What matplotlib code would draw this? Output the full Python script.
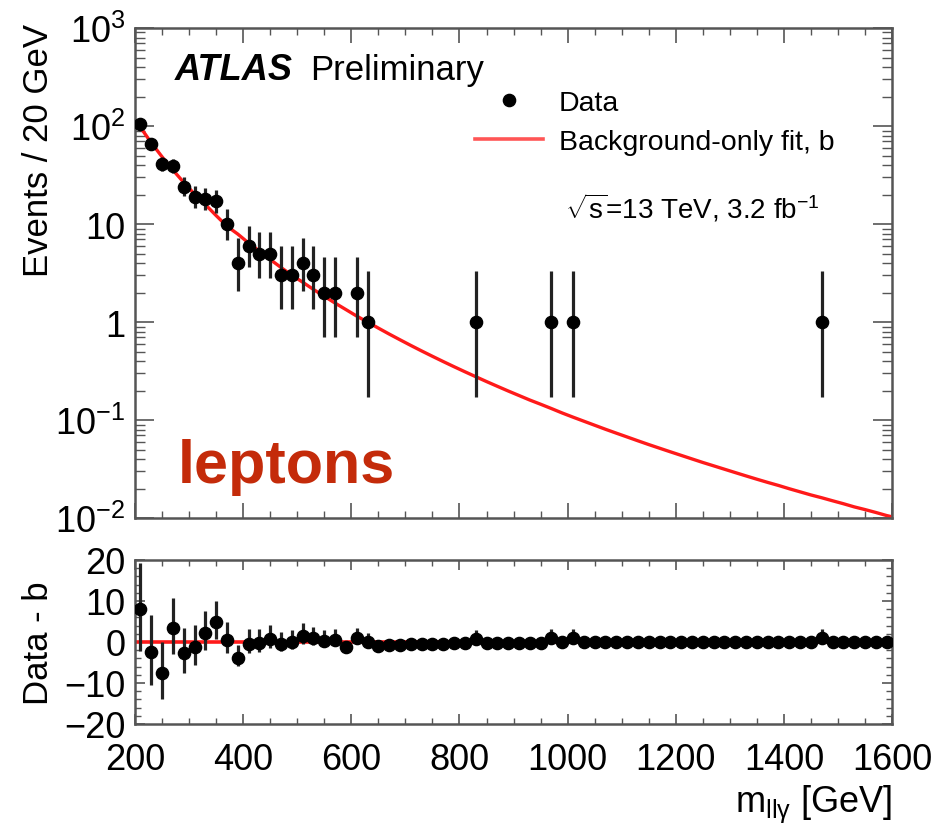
import numpy as np
import matplotlib
matplotlib.use("Agg")
import matplotlib.pyplot as plt
from matplotlib.ticker import LogLocator, MultipleLocator, FixedLocator, FixedFormatter, NullFormatter
from matplotlib.lines import Line2D
from math import lgamma, exp, log

plt.rcParams['font.family'] = ['Liberation Sans', 'DejaVu Sans']
plt.rcParams['mathtext.fontset'] = 'custom'
plt.rcParams['mathtext.rm'] = 'Liberation Sans'
plt.rcParams['mathtext.it'] = 'Liberation Sans:italic'
plt.rcParams['mathtext.default'] = 'regular'

# 20 GeV bins, 200-1600 GeV
bin_centers = np.arange(210, 1600, 20)

# event counts per bin (zero where nothing is drawn)
counts = np.zeros(len(bin_centers))
low_counts = [105, 65, 41, 39, 24, 19, 18, 17, 10, 4, 6, 5, 5, 3, 3, 4, 3, 2, 2, 0, 2, 1]
counts[:len(low_counts)] = low_counts
single_events = [830, 970, 1010, 1470]
for m in single_events:
    counts[bin_centers == m] = 1

# background-only fit at the bin centers
fit_b = np.array([
    97.0, 67.5, 48.5, 35.6, 26.6, 20.2, 15.8, 12.2, 9.5, 7.9,
    6.4, 5.3, 4.35, 3.6, 3.0, 2.55, 2.15, 1.83, 1.56, 1.34,
    1.15, 1.0, 0.867, 0.754, 0.659, 0.577, 0.507, 0.447, 0.395, 0.350,
    0.311, 0.277, 0.247, 0.221, 0.198, 0.178, 0.160, 0.145, 0.131, 0.118,
    0.107, 0.0973, 0.0885, 0.0805, 0.0735, 0.0672, 0.0614, 0.0562, 0.0516, 0.0474,
    0.0436, 0.0401, 0.0369, 0.0341, 0.0315, 0.0291, 0.0269, 0.0249, 0.0231, 0.0215,
    0.0199, 0.0185, 0.0172, 0.0161, 0.0150, 0.0140, 0.0130, 0.0122, 0.0114, 0.0106,
])
fit_lo_edge = 112.0   # fit value at 200 GeV
fit_hi_edge = 0.0103  # fit value at 1600 GeV

y_ticks_top = [1e-2, 1e-1, 1, 10, 1e2, 1e3]
y_labels_top = ['$10^{-2}$', '$10^{-1}$', '1', '10', '$10^{2}$', '$10^{3}$']


# Garwood (68%) poisson intervals for the error bars
def pois_cdf(k, mu):
    if k < 0:
        return 0.0
    return sum(exp(i * log(mu) - mu - lgamma(i + 1)) for i in range(k + 1))


def solve(fn, target, lo, hi, decreasing=True):
    for _ in range(80):
        mid = 0.5 * (lo + hi)
        v = fn(mid)
        if (v > target) == decreasing:
            lo = mid
        else:
            hi = mid
    return 0.5 * (lo + hi)


alpha = 0.158655
err_lo = np.zeros(len(counts))
err_hi = np.zeros(len(counts))
for i, n in enumerate(counts.astype(int)):
    if n == 0:
        continue
    up = solve(lambda mu: pois_cdf(n, mu), alpha, n, n + 10 * np.sqrt(n + 1) + 10)
    dn = solve(lambda mu: pois_cdf(n - 1, mu), 1 - alpha, 1e-9, n)
    err_lo[i] = n - dn
    err_hi[i] = up - n

resid = counts - fit_b

fig = plt.figure(figsize=(9.39, 8.29), dpi=100)
ax1 = fig.add_axes([0.1438, 0.3739, 0.8062, 0.5911])
ax2 = fig.add_axes([0.1438, 0.1255, 0.8062, 0.1978])

# top panel
nz = counts > 0
curve_x = np.r_[200, bin_centers, 1600]
curve_y = np.r_[fit_lo_edge, fit_b, fit_hi_edge]
ax1.plot(curve_x, curve_y, color='#ff1a1a', lw=2.4, zorder=2)
ax1.errorbar(bin_centers[nz], counts[nz], yerr=[err_lo[nz], err_hi[nz]], fmt='o',
             color='black', ecolor='#222222', ms=8.8, elinewidth=2.3, capsize=0, zorder=3)
ax1.set_yscale('log')
ax1.set_xlim(200, 1600)
ax1.set_ylim(1e-2, 1e3)
ax1.yaxis.set_major_locator(FixedLocator(y_ticks_top))
ax1.yaxis.set_major_formatter(FixedFormatter(y_labels_top))
ax1.yaxis.set_minor_locator(LogLocator(base=10, subs=np.arange(2, 10), numticks=20))
ax1.yaxis.set_minor_formatter(NullFormatter())
ax1.xaxis.set_major_locator(MultipleLocator(200))
ax1.xaxis.set_minor_locator(MultipleLocator(50))
ax1.tick_params(axis='x', labelbottom=False)
ax1.set_ylabel('Events / 20 GeV', fontsize=25, loc='top')
ax1.yaxis.set_label_coords(-0.106, 1.01)

# bottom panel
ax2.axhline(0, color='#ff1a1a', lw=2.6, zorder=2)
ax2.errorbar(bin_centers, resid, yerr=[err_lo, err_hi], fmt='o', color='black',
             ecolor='#222222', ms=8.8, elinewidth=2.3, capsize=0, zorder=3)
ax2.set_xlim(200, 1600)
ax2.set_ylim(-20, 20)
ax2.xaxis.set_major_locator(MultipleLocator(200))
ax2.xaxis.set_minor_locator(MultipleLocator(50))
ax2.yaxis.set_major_locator(MultipleLocator(10))
ax2.yaxis.set_minor_locator(MultipleLocator(2))
ax2.set_ylabel('Data - b', fontsize=25)
ax2.yaxis.set_label_coords(-0.106, 0.5)

for ax in (ax1, ax2):
    ax.tick_params(which='both', direction='in', top=True, right=True,
                   color='#555555', labelsize=26, pad=7)
    for s in ax.spines.values():
        s.set_linewidth(1.8)
        s.set_color('#555555')
ax1.tick_params(axis='y', which='major', length=14, width=1.2)
ax1.tick_params(axis='y', which='minor', length=7, width=1.0)
ax1.tick_params(axis='x', which='major', length=11, width=1.2)
ax1.tick_params(axis='x', which='minor', length=5, width=1.0)
ax2.tick_params(axis='both', which='major', length=7, width=1.2)
ax2.tick_params(axis='both', which='minor', length=4, width=1.0)
ax2.tick_params(axis='x', which='major', pad=13)
ax2.set_xlabel(r'm$_{ll\gamma}$ [GeV]', fontsize=26, loc='right', labelpad=4)

# legend
handles = [Line2D([], [], marker='o', ls='none', color='black', ms=8.8),
           Line2D([], [], color='#ff5555', lw=2.6)]
ax1.legend(handles, ['Data', 'Background-only fit, b'], loc='upper left',
           bbox_to_anchor=(475 / 939, 1 - 91 / 829), bbox_transform=fig.transFigure,
           frameon=False, fontsize=20.5, handlelength=2.4, handletextpad=0.55,
           borderpad=0, borderaxespad=0, labelspacing=0.45)

fig.text(175 / 939, 1 - 80 / 829, 'ATLAS', fontsize=26, weight='bold', style='italic')
fig.text(310 / 939, 1 - 80 / 829, 'Preliminary', fontsize=25)
fig.text(565 / 939, 1 - 219 / 829, r'$\sqrt{s}$=13 TeV, 3.2 fb$^{-1}$', fontsize=20)
fig.text(178 / 939, 1 - 483 / 829, 'leptons', fontsize=44, weight='bold', color='#c42b0a')

fig.savefig('out.png', dpi=100)
